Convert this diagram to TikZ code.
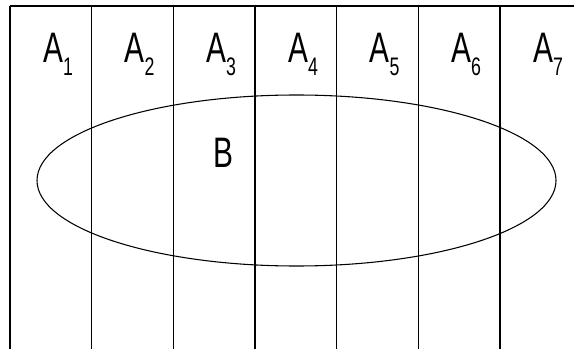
\documentclass[tikz,border=0pt]{standalone}
\usepackage{fontspec}
\setmainfont[FakeStretch=0.7]{Liberation Sans}
\usepackage{tikz}
\usetikzlibrary{positioning}

\newcommand{\setname}[1]{A\lower 9.5pt\hbox{\fontsize{19pt}{19pt}\selectfont #1}}

\begin{document}
\begin{tikzpicture}[x=0.75pt, y=-0.75pt, line width=0.8pt, every node/.style={font=\fontsize{32pt}{34pt}\selectfont, inner sep=0pt, anchor=base}]
  \useasboundingbox (0,0) rectangle (574,349);
  \draw[line width=1.3pt] (10,6) -- (574,6);
  \draw (10,6) -- (10,349);
  \draw (91.7,6) -- (91.7,349);
  \draw (173.3,6) -- (173.3,349);
  \draw (255,6) -- (255,349);
  \draw (336.7,6) -- (336.7,349);
  \draw (418.3,6) -- (418.3,349);
  \draw (500,6) -- (500,349);
  \node (a1) at (58,63) {\setname{1}};
  \node (a2) at (139.5,63) {\setname{2}};
  \node (a3) at (221,63) {\setname{3}};
  \node (a4) at (303,63) {\setname{4}};
  \node (a5) at (384.5,63) {\setname{5}};
  \node (a6) at (466,63) {\setname{6}};
  \node (a7) at (548,63) {\setname{7}};
  \draw (296.5,180.5) ellipse [x radius=259.5, y radius=85.5];
  \node (b) at (223,167) {B};
\end{tikzpicture}
\end{document}
